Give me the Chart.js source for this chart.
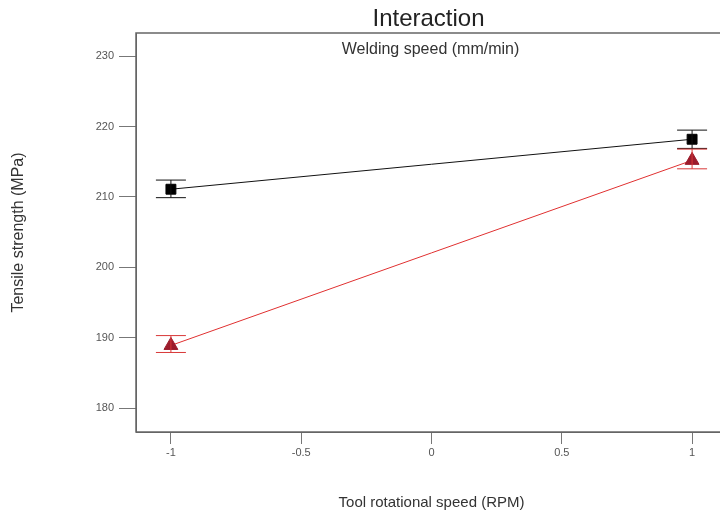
<!DOCTYPE html>
<html>
<head>
<meta charset="utf-8">
<script src="https://cdn.jsdelivr.net/npm/chart.js@4"></script>
<style>
  html, body { margin: 0; padding: 0; background: #fff; overflow: hidden; }
  #wrap { width: 740px; height: 520px; }
</style>
</head>
<body>
<div id="wrap"><canvas id="chartInter" width="740" height="520"></canvas></div>
<script>
// Interaction plot
const chartTitle = "Interaction";
const factorLabel = "Welding speed (mm/min)";
const xTitle = "Tool rotational speed (RPM)";
const yTitle = "Tensile strength (MPa)";

const xLevels = [-1, 1];
const xTickVals = [-1, -0.5, 0, 0.5, 1];
const yTickVals = [180, 190, 200, 210, 220, 230];

// serie negra (cuadrados)
const blackMean = [211.1, 218.2];
const blackLow = [209.9, 216.9];
const blackHigh = [212.4, 219.5];

// serie roja (triángulos)
const redMean = [188.9, 215.2];
const redLow = [187.9, 214.0];
const redHigh = [190.3, 216.8];

const FONT = "'Liberation Sans', Arial, sans-serif";

function toPoints(xs, ys) {
  return xs.map((x, i) => ({ x: x, y: ys[i] }));
}

// barras de error + marco + textos
const extrasPlugin = {
  id: "extras",
  afterDatasetsDraw(chart) {
    const { ctx, scales } = chart;
    const xs = scales.x, ys = scales.y;
    const bars = [
      { lo: blackLow, hi: blackHigh, color: "#111" },
      { lo: redLow, hi: redHigh, color: "#d83838" },
    ];
    ctx.save();
    ctx.lineWidth = 1;
    bars.forEach((b) => {
      ctx.strokeStyle = b.color;
      xLevels.forEach((x, i) => {
        const px = xs.getPixelForValue(x);
        const y1 = ys.getPixelForValue(b.lo[i]);
        const y2 = ys.getPixelForValue(b.hi[i]);
        ctx.beginPath();
        ctx.moveTo(px, y1); ctx.lineTo(px, y2);
        ctx.moveTo(px - 15, y1); ctx.lineTo(px + 15, y1);
        ctx.moveTo(px - 15, y2); ctx.lineTo(px + 15, y2);
        ctx.stroke();
      });
    });
    ctx.restore();
  },
  afterDraw(chart) {
    const { ctx, chartArea } = chart;
    const cx = (chartArea.left + chartArea.right) / 2;
    ctx.save();
    ctx.strokeStyle = "#666";
    ctx.lineWidth = 1.5;
    ctx.strokeRect(chartArea.left, chartArea.top, chartArea.right - chartArea.left, chartArea.bottom - chartArea.top);
    ctx.textAlign = "center";
    ctx.textBaseline = "middle";
    ctx.fillStyle = "#222";
    ctx.font = "24px " + FONT;
    ctx.fillText(chartTitle, cx - 3, 19);
    ctx.font = "16px " + FONT;
    ctx.fillStyle = "#333";
    ctx.fillText(factorLabel, cx - 1, chartArea.top + 17);
    ctx.restore();
  },
};

new Chart(document.getElementById("chartInter"), {
  type: "line",
  data: {
    datasets: [
      {
        label: "black",
        data: toPoints(xLevels, blackMean),
        borderColor: "#111",
        backgroundColor: "#000",
        borderWidth: 1,
        pointStyle: "rect",
        pointRadius: 7,
        pointBorderColor: "#000",
      },
      {
        label: "red",
        data: toPoints(xLevels, redMean),
        borderColor: "#e03030",
        backgroundColor: "#9c1c2c",
        borderWidth: 1,
        pointStyle: "triangle",
        pointRadius: 8,
        pointBorderColor: "#9c1c2c",
      },
    ],
  },
  options: {
    responsive: false,
    animation: false,
    layout: { padding: { top: 33, right: 13, left: 0, bottom: 0 } },
    plugins: {
      legend: { display: false },
      title: { display: false },
      tooltip: { enabled: false },
    },
    scales: {
      x: {
        type: "linear",
        min: -1.134,
        max: 1.134,
        afterBuildTicks: (s) => { s.ticks = xTickVals.map((v) => ({ value: v })); },
        afterFit: (s) => { s.height = 88; },
        grid: { drawOnChartArea: false, drawTicks: true, tickLength: 12, color: "#777" },
        border: { color: "#666" },
        ticks: {
          color: "#555",
          padding: 2,
          maxRotation: 0,
          font: { family: FONT, size: 11 },
          callback: (v) => String(v),
        },
        title: {
          display: true,
          text: xTitle,
          color: "#333",
          font: { family: FONT, size: 15 },
          padding: { top: 4, bottom: 8 },
        },
      },
      y: {
        min: 176.6,
        max: 233.3,
        afterBuildTicks: (s) => { s.ticks = yTickVals.map((v) => ({ value: v })); },
        afterFit: (s) => { s.width = 136; },
        grid: { drawOnChartArea: false, drawTicks: true, tickLength: 17, color: "#777" },
        border: { color: "#666" },
        ticks: {
          color: "#555",
          padding: 5,
          font: { family: FONT, size: 11 },
        },
        title: {
          display: true,
          text: yTitle,
          color: "#333",
          font: { family: FONT, size: 16 },
          padding: { top: 9, bottom: 4 },
        },
      },
    },
  },
  plugins: [extrasPlugin],
});
</script>
</body>
</html>
